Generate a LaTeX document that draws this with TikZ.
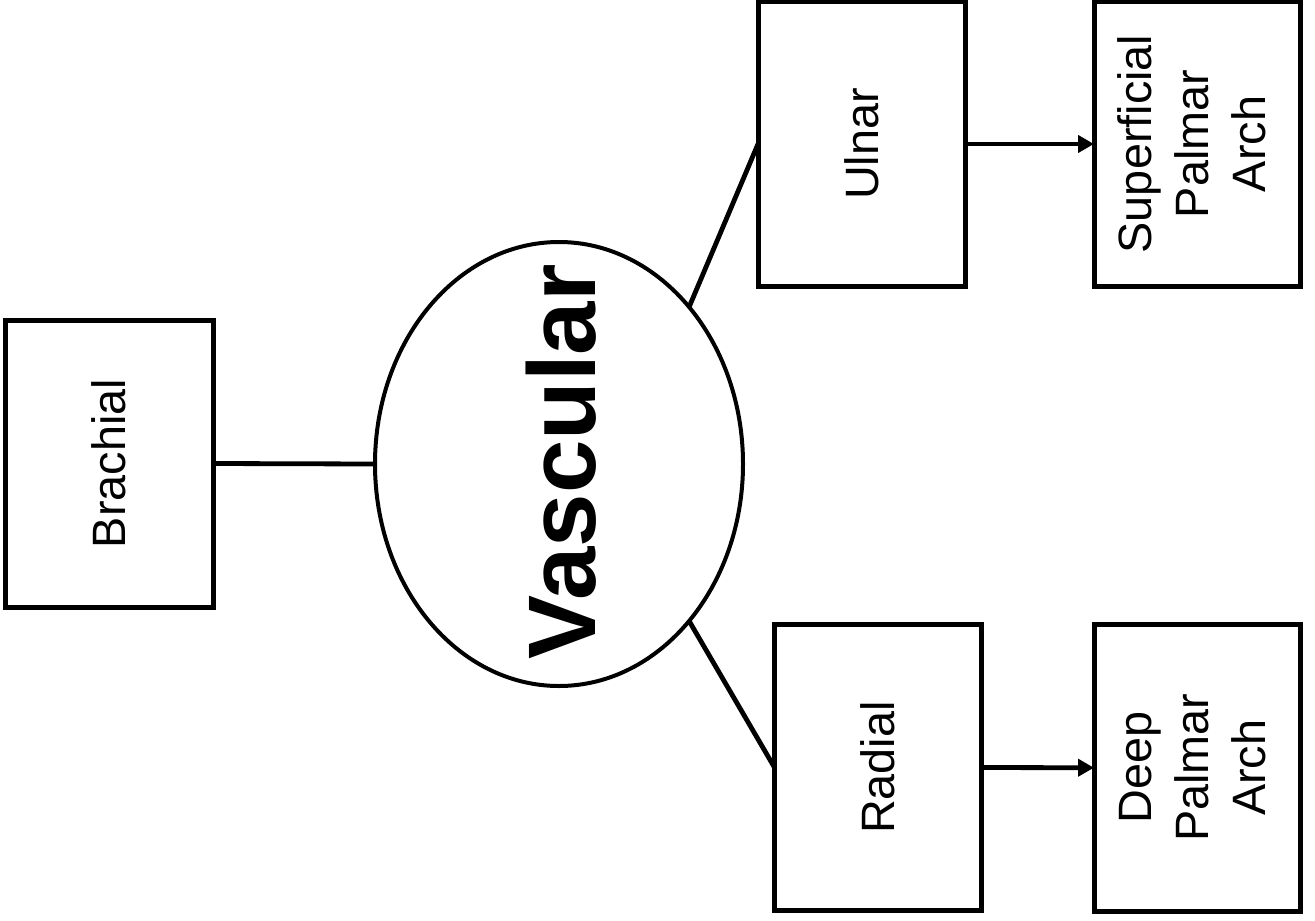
\documentclass[tikz,border=0pt]{standalone}
\usepackage{fontspec}
\setmainfont{Liberation Sans}
\usepackage{graphicx}
\usetikzlibrary{arrows.meta,shapes.geometric}
\begin{document}
\begin{tikzpicture}[x=0.5pt,y=-0.5pt,
  box/.style={draw,line width=2.5pt,rectangle,inner sep=0pt,outer sep=0pt,font=\fontsize{23.4}{28.5}\selectfont,align=center},
  oval/.style={draw,ellipse,line width=2pt,inner sep=0pt,outer sep=0pt},
  conn/.style={line width=2.4pt},
  arr/.style={line width=2.4pt,-{Triangle[length=8pt,width=8.5pt]}},
]
\fill[white] (0,0) rectangle (1315,920);
\useasboundingbox (0,0) rectangle (1315,920);
\node[box,minimum width=104pt,minimum height=143.5pt] (brach) at (109,463.5) {\rotatebox{90}{Brachial}};
\node[box,minimum width=103.5pt,minimum height=142pt] (uln) at (861.5,144) {\rotatebox{90}{Ulnar}};
\node[box,minimum width=103.25pt,minimum height=142pt] (spa) at (1197.25,144) {\rotatebox{90}{\begin{tabular}{@{}c@{}}Superficial\\Palmar\\Arch\end{tabular}}};
\node[box,minimum width=103.25pt,minimum height=143pt] (rad) at (877.75,767.5) {\rotatebox{90}{Radial}};
\node[box,minimum width=103.25pt,minimum height=143.25pt] (dpa) at (1197.25,767.75) {\rotatebox{90}{\begin{tabular}{@{}c@{}}Deep\\Palmar\\Arch\end{tabular}}};
\node[oval,minimum width=184pt,minimum height=222pt] (v) at (559,464) {};
\node[inner sep=0pt] (vtext) at (561,462) {\rotatebox{90}{\fontsize{48}{56}\selectfont\bfseries Vascular}};
\draw[conn] (brach.east) -- (v.west);
\draw[conn] (v.north east) -- (uln.west);
\draw[conn] (v.south east) -- (rad.west);
\draw[arr] (uln.east) -- (spa.west);
\draw[arr] (rad.east) -- (dpa.west);
\end{tikzpicture}
\end{document}
